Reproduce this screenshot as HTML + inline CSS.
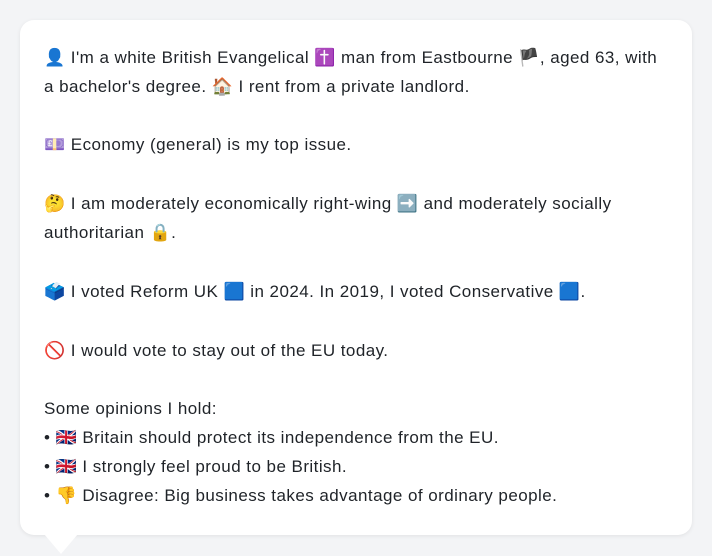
<!DOCTYPE html>
<html><head><meta charset="utf-8">
<style>
html,body{margin:0;padding:0;}
body{width:712px;height:556px;background:#f3f4f6;position:relative;overflow:hidden;font-family:"Liberation Sans","Noto Sans CJK JP",sans-serif;color:#1f2328;}
.card{position:absolute;left:20px;top:20px;width:672px;height:515px;background:#fff;border-radius:14px;box-shadow:0 1px 4px rgba(0,0,0,0.08);}
.tail{position:absolute;left:44px;top:534px;width:0;height:0;border-left:17px solid transparent;border-right:17px solid transparent;border-top:20px solid #fff;}
.l{position:absolute;left:44px;font-size:17px;letter-spacing:0.45px;line-height:20px;white-space:nowrap;}
</style></head><body>
<div class="card"></div>
<div class="tail"></div>
<div class="l" style="top:48px">👤 I'm a white British Evangelical ✝️ man from Eastbourne 🏴, aged 63, with</div>
<div class="l" style="top:77px">a bachelor's degree. 🏠 I rent from a private landlord.</div>
<div class="l" style="top:135px">💷 Economy (general) is my top issue.</div>
<div class="l" style="top:194px">🤔 I am moderately economically right-wing ➡️ and moderately socially</div>
<div class="l" style="top:223px">authoritarian 🔒.</div>
<div class="l" style="top:282px">🗳️ I voted Reform UK 🟦 in 2024. In 2019, I voted Conservative 🟦.</div>
<div class="l" style="top:341px">🚫 I would vote to stay out of the EU today.</div>
<div class="l" style="top:399px">Some opinions I hold:</div>
<div class="l" style="top:428px">• 🇬🇧 Britain should protect its independence from the EU.</div>
<div class="l" style="top:457px">• 🇬🇧 I strongly feel proud to be British.</div>
<div class="l" style="top:486px">• 👎 Disagree: Big business takes advantage of ordinary people.</div>
</body></html>
